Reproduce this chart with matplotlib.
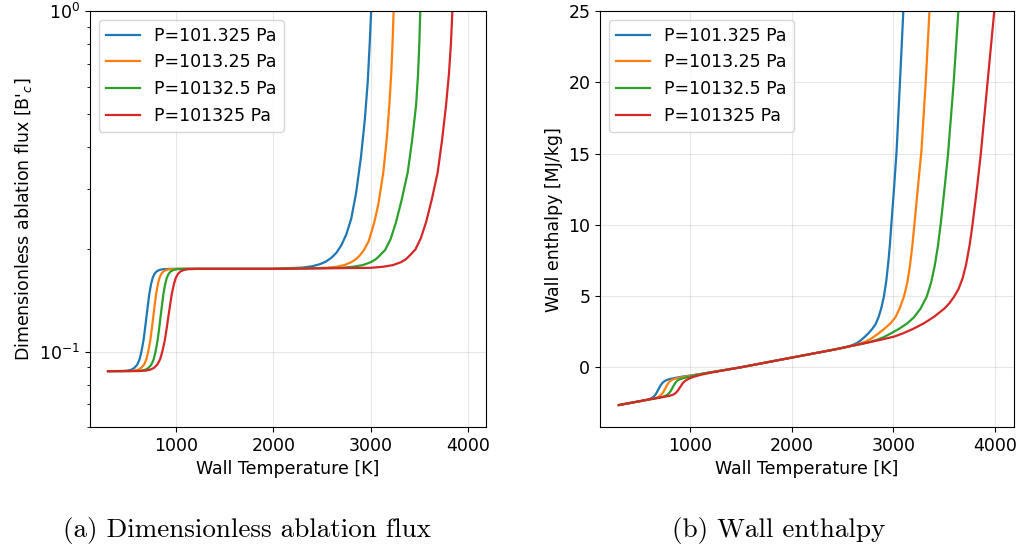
import matplotlib
matplotlib.use("Agg")
import matplotlib.pyplot as plt

plt.rcParams["font.size"] = 12.5

labels = ["P=101.325 Pa", "P=1013.25 Pa", "P=10132.5 Pa", "P=101325 Pa"]
colors = ["#1f77b4", "#ff7f0e", "#2ca02c", "#d62728"]

# (a) dimensionless ablation flux B'c vs wall temperature [K]
T_b1 = [300, 450, 500, 540, 570, 600, 625, 645, 665, 680, 695, 710, 725, 743, 760, 780, 800, 830,
        870, 950, 2000, 2300, 2400, 2480, 2540, 2600, 2650, 2700, 2750, 2800, 2850, 2900, 2940,
        2970, 2990, 3005, 3015]
B_b1 = [0.0876, 0.0877, 0.0879, 0.0885, 0.0895, 0.0915, 0.095, 0.1005, 0.108, 0.1165, 0.1265, 0.137,
        0.148, 0.158, 0.165, 0.1695, 0.172, 0.1738, 0.1746, 0.175, 0.175, 0.1765, 0.1781, 0.1807,
        0.1838, 0.189, 0.1954, 0.2056, 0.221, 0.2454, 0.292, 0.372, 0.48, 0.62, 0.80, 1.0, 1.15]
T_b2 = [300, 520, 570, 610, 640, 670, 695, 715, 735, 750, 765, 780, 795, 813, 830, 850, 870, 900,
        940, 1020, 2000, 2550, 2650, 2730, 2800, 2850, 2884, 2930, 2980, 3038, 3080, 3130, 3165,
        3192, 3212, 3226, 3236, 3245]
B_b2 = [0.0876, 0.0877, 0.0879, 0.0885, 0.0895, 0.0915, 0.095, 0.1005, 0.108, 0.1165, 0.1265, 0.137,
        0.148, 0.158, 0.165, 0.1695, 0.172, 0.1738, 0.1746, 0.175, 0.175, 0.1762, 0.1775, 0.1795,
        0.183, 0.187, 0.191, 0.1985, 0.211, 0.240, 0.272, 0.336, 0.420, 0.529, 0.66, 0.82, 1.0, 1.15]
T_b3 = [300, 595, 645, 685, 715, 745, 770, 790, 810, 825, 840, 855, 870, 888, 905, 925, 945, 975,
        1015, 1095, 2000, 2700, 2820, 2920, 3000, 3050, 3090, 3150, 3205, 3261, 3320, 3381, 3425,
        3467, 3487, 3500, 3510, 3520]
B_b3 = [0.0876, 0.0877, 0.0879, 0.0885, 0.0895, 0.0915, 0.095, 0.1005, 0.108, 0.1165, 0.1265, 0.137,
        0.148, 0.158, 0.165, 0.1695, 0.172, 0.1738, 0.1746, 0.175, 0.175, 0.1762, 0.1775, 0.1795,
        0.183, 0.1865, 0.191, 0.199, 0.214, 0.240, 0.280, 0.336, 0.415, 0.529, 0.65, 0.80, 1.0, 1.15]
T_b4 = [300, 626, 686, 734, 770, 806, 836, 860, 884, 902, 920, 938, 956, 978, 998, 1022, 1046, 1082,
        1130, 1226, 2000, 3000, 3130, 3230, 3310, 3360, 3398, 3460, 3515, 3570, 3630, 3689, 3735,
        3775, 3805, 3825, 3840, 3855]
B_b4 = [0.0876, 0.0877, 0.0879, 0.0885, 0.0895, 0.0915, 0.095, 0.1005, 0.108, 0.1165, 0.1265, 0.137,
        0.148, 0.158, 0.165, 0.1695, 0.172, 0.1738, 0.1746, 0.175, 0.175, 0.1762, 0.1775, 0.1795,
        0.183, 0.1865, 0.191, 0.1995, 0.215, 0.240, 0.281, 0.336, 0.420, 0.529, 0.655, 0.80, 1.0, 1.2]

# (b) wall enthalpy [MJ/kg] vs wall temperature [K]
T_h1 = [300, 450, 540, 590, 620, 645, 665, 687, 708, 728, 750, 775, 810, 860, 920, 1000, 1100, 1200,
        1500, 2000, 2400, 2480, 2540, 2590, 2640, 2680, 2709, 2750, 2790, 2824, 2855, 2880, 2906,
        2930, 2950, 2966, 2980, 3005, 3031, 3064, 3097, 3110]
H_h1 = [-2.65, -2.46, -2.34, -2.26, -2.18, -2.05, -1.87, -1.58, -1.30, -1.10, -0.97, -0.88, -0.81,
        -0.74, -0.66, -0.58, -0.47, -0.36, 0.0, 0.68, 1.22, 1.33, 1.43, 1.54, 1.70, 1.90, 2.08, 2.36,
        2.68, 3.02, 3.55, 4.15, 4.96, 6.1, 7.4, 8.7, 10.1, 12.5, 15.2, 20.0, 25.0, 26.7]
T_h2 = [300, 500, 610, 660, 690, 715, 735, 757, 778, 798, 820, 845, 880, 930, 1000, 1100, 1200, 1500,
        2000, 2400, 2500, 2600, 2680, 2740, 2790, 2850, 2910, 2972, 3020, 3060, 3103, 3135, 3160,
        3185, 3207, 3240, 3275, 3317, 3354, 3365]
H_h2 = [-2.65, -2.39, -2.25, -2.17, -2.08, -1.95, -1.77, -1.48, -1.20, -1.01, -0.89, -0.82, -0.76,
        -0.69, -0.60, -0.48, -0.36, 0.0, 0.68, 1.22, 1.36, 1.52, 1.68, 1.85, 2.05, 2.36, 2.70, 3.09,
        3.52, 4.12, 4.96, 5.9, 7.0, 8.5, 10.1, 12.6, 15.2, 20.0, 25.0, 26.5]
T_h3 = [300, 550, 680, 735, 765, 790, 810, 832, 853, 873, 895, 925, 965, 1020, 1100, 1200, 1500, 2000,
        2400, 2600, 2700, 2780, 2850, 2906, 2980, 3060, 3137, 3200, 3265, 3327, 3370, 3405, 3437,
        3465, 3500, 3537, 3592, 3638, 3650]
H_h3 = [-2.65, -2.32, -2.16, -2.07, -1.98, -1.85, -1.67, -1.38, -1.12, -0.95, -0.85, -0.78, -0.71,
        -0.62, -0.49, -0.36, 0.0, 0.68, 1.22, 1.52, 1.66, 1.80, 1.96, 2.12, 2.40, 2.72, 3.09, 3.5,
        4.1, 4.96, 5.95, 7.1, 8.5, 10.1, 12.4, 15.0, 20.0, 25.0, 26.5]
T_h4 = [300, 600, 750, 800, 835, 860, 882, 905, 928, 950, 975, 1005, 1050, 1110, 1200, 1300, 1500,
        2000, 2400, 2600, 2750, 2880, 3005, 3100, 3200, 3300, 3400, 3500, 3550, 3596, 3640, 3680,
        3715, 3748, 3777, 3820, 3859, 3925, 3991, 4000]
H_h4 = [-2.65, -2.25, -2.07, -2.00, -1.92, -1.80, -1.62, -1.37, -1.12, -0.96, -0.85, -0.75, -0.64,
        -0.52, -0.38, -0.25, 0.0, 0.68, 1.22, 1.52, 1.74, 1.94, 2.15, 2.40, 2.72, 3.09, 3.55, 4.12,
        4.50, 4.95, 5.50, 6.25, 7.25, 8.55, 10.0, 12.5, 15.0, 20.0, 25.0, 25.7]

flux = [(T_b1, B_b1), (T_b2, B_b2), (T_b3, B_b3), (T_b4, B_b4)]
enth = [(T_h1, H_h1), (T_h2, H_h2), (T_h3, H_h3), (T_h4, H_h4)]

fig = plt.figure(figsize=(10.23, 5.54), dpi=100)
ax1 = fig.add_axes([0.088, 0.229, 0.387, 0.751])
ax2 = fig.add_axes([0.5865, 0.229, 0.4047, 0.751])

for (t, b), lab, c in zip(flux, labels, colors):
    ax1.plot(t, b, color=c, lw=1.6, label=lab)
ax1.set_yscale("log")
ax1.set_ylim(0.06, 1)
ax1.set_xlim(115, 4185)
ax1.set_xlabel("Wall Temperature [K]")
ax1.set_ylabel("Dimensionless ablation flux [B'$_c$]")
ax1.grid(True, color="#b0b0b0", alpha=0.3)
ax1.legend(loc="upper left")

for (t, h), lab, c in zip(enth, labels, colors):
    ax2.plot(t, h, color=c, lw=1.6, label=lab)
ax2.set_ylim(-4.2, 25)
ax2.set_xlim(115, 4185)
ax2.set_xlabel("Wall Temperature [K]")
ax2.set_ylabel("Wall enthalpy [MJ/kg]")
ax2.grid(True, color="#b0b0b0", alpha=0.3)
ax2.legend(loc="upper left")

for ax in (ax1, ax2):
    ax.tick_params(labelsize=12.5)

# captions under each panel
fig.text(247 / 1023, 1 - 530 / 554, "(a) Dimensionless ablation flux", family="cmr10",
         fontsize=19.5, ha="center", va="center")
fig.text(779 / 1023, 1 - 530 / 554, "(b) Wall enthalpy", family="cmr10",
         fontsize=19.5, ha="center", va="center")

fig.savefig("out.png", dpi=100)
